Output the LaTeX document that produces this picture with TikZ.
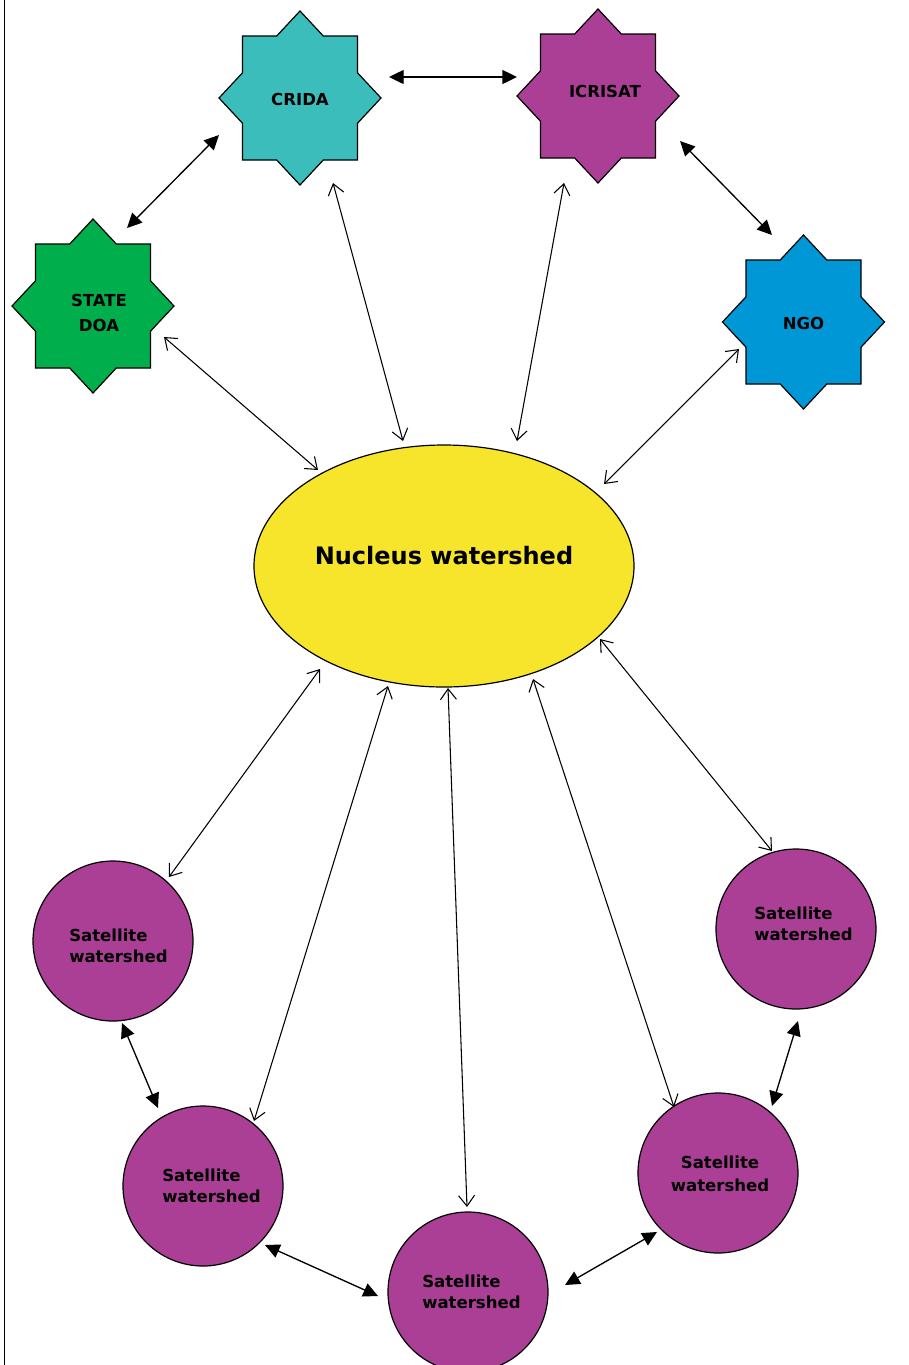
\documentclass[tikz,border=0pt]{standalone}
\usepackage{fontspec}
\setmainfont{DejaVu Sans}
\usetikzlibrary{arrows.meta,calc}
\definecolor{tealc}{HTML}{3BBEBB}
\definecolor{purplec}{HTML}{AB3F95}
\definecolor{bluec}{HTML}{0097D7}
\definecolor{greenc}{HTML}{00AE4C}
\definecolor{yellowc}{HTML}{F7E52B}
\tikzset{
  starline/.style={draw=black, line width=0.9pt},
  lbl/.style={font=\bfseries\fontsize{12.4}{15.75}\selectfont, inner sep=0pt, align=left},
  sat/.style={circle, draw=black, line width=0.9pt, fill=purplec, minimum size=120pt, inner sep=0pt},
  nucleus/.style={ellipse, draw=black, line width=0.9pt, fill=yellowc, minimum width=285pt, minimum height=181.5pt, inner sep=0pt},
  boldarr/.style={{Triangle[length=11pt,width=10.5pt]}-{Triangle[length=11pt,width=10.5pt]}, line width=1pt},
  thinarr/.style={{Straight Barb[length=8pt,width=12pt]}-{Straight Barb[length=8pt,width=12pt]}, line width=0.8pt},
}
\usetikzlibrary{shapes.geometric}
\newcommand\drawstar[2]{%
  \draw[starline, fill=#2, shift={(#1)}] (0,-87) -- (23.3,-62) -- (57.5,-62) -- (57.5,-25.2) -- (81,0)
    -- (57.5,25.2) -- (57.5,62) -- (23.3,62) -- (0,87) -- (-23.3,62) -- (-57.5,62) -- (-57.5,25.2)
    -- (-81,0) -- (-57.5,-25.2) -- (-57.5,-62) -- (-23.3,-62) -- cycle;}
\begin{document}
\begin{tikzpicture}[x=0.75pt,y=-0.75pt]
\useasboundingbox (0,0) rectangle (909,1365);
% left border
\coordinate (bt) at (4.5,0);
\coordinate (bb) at (4.5,1365);
\draw[line width=1.1pt] (bt) -- (bb);

% stars
\coordinate (crida) at (300,98);
\coordinate (icrisat) at (598,96);
\coordinate (ngo) at (803.5,322);
\coordinate (doa) at (93,306);
\drawstar{crida}{tealc}
\drawstar{icrisat}{purplec}
\drawstar{ngo}{bluec}
\drawstar{doa}{greenc}
\node[lbl] (cridaT) at ($(crida)+(0,1)$) {CRIDA};
\node[lbl] (icrisatT) at ($(icrisat)+(7,-5)$) {ICRISAT};
\node[lbl] (ngoT) at ($(ngo)+(0,1)$) {NGO};
\node[lbl, align=center, font=\bfseries\fontsize{12.4}{18.75}\selectfont] (doaT) at ($(doa)+(6,6.5)$) {STATE\\DOA};

% nucleus
\node[nucleus] (nuc) at (444,566) {};
\node[font=\bfseries\fontsize{18}{22}\selectfont, inner sep=0pt] (nucT) at (444,556) {Nucleus watershed};

% satellites
\node[sat] (s1) at (113,941) {};
\node[sat] (s2) at (203,1186) {};
\node[sat] (s3) at (468,1292) {};
\node[sat] (s4) at (718,1173) {};
\node[sat] (s5) at (796,929) {};
\node[lbl, anchor=west] (s1T) at (69,945.5) {Satellite\\watershed};
\node[lbl, anchor=west] (s2T) at (162,1186) {Satellite\\watershed};
\node[lbl, anchor=west] (s3T) at (422,1291.5) {Satellite\\watershed};
\node[lbl, align=center, font=\bfseries\fontsize{12.4}{17.25}\selectfont] (s4T) at (720,1173.5) {Satellite\\watershed};
\node[lbl, anchor=west] (s5T) at (754,924) {Satellite\\watershed};

% bold arrows
\draw[boldarr] ($(crida)+(89,-21)$) -- ($(icrisat)+(-81,-19)$);
\draw[boldarr] ($(doa)+(34,-78)$) -- ($(crida)+(-81,37)$);
\draw[boldarr] ($(icrisat)+(82,45)$) -- ($(ngo)+(-31.5,-87)$);
\draw[boldarr] ($(s1)+(9,82)$) -- ($(s2)+(-45,-78)$);
\draw[boldarr] ($(s2)+(62,59)$) -- ($(s3)+(-90,4)$);
\draw[boldarr] ($(s3)+(97,-7)$) -- ($(s4)+(-61,59)$);
\draw[boldarr] ($(s4)+(54,-67)$) -- ($(s5)+(2,92)$);

% thin arrows
\draw[thinarr] ($(doa)+(71,31)$) -- ($(nuc)+(-126,-96)$);
\draw[thinarr] ($(crida)+(33,85)$) -- ($(nuc)+(-41,-125)$);
\draw[thinarr] ($(icrisat)+(-34,87)$) -- ($(nuc)+(73,-125)$);
\draw[thinarr] ($(ngo)+(-64.5,27)$) -- ($(nuc)+(160,-82)$);
\draw[thinarr] ($(nuc)+(-124,103)$) -- ($(s1)+(56,-64)$);
\draw[thinarr] ($(nuc)+(-56,120)$) -- ($(s2)+(51,-65)$);
\draw[thinarr] ($(nuc)+(4,122)$) -- ($(s3)+(-1,-85)$);
\draw[thinarr] ($(nuc)+(89,113)$) -- ($(s4)+(-44,-66)$);
\draw[thinarr] ($(nuc)+(156,73)$) -- ($(s5)+(-24,-78)$);
\end{tikzpicture}
\end{document}
